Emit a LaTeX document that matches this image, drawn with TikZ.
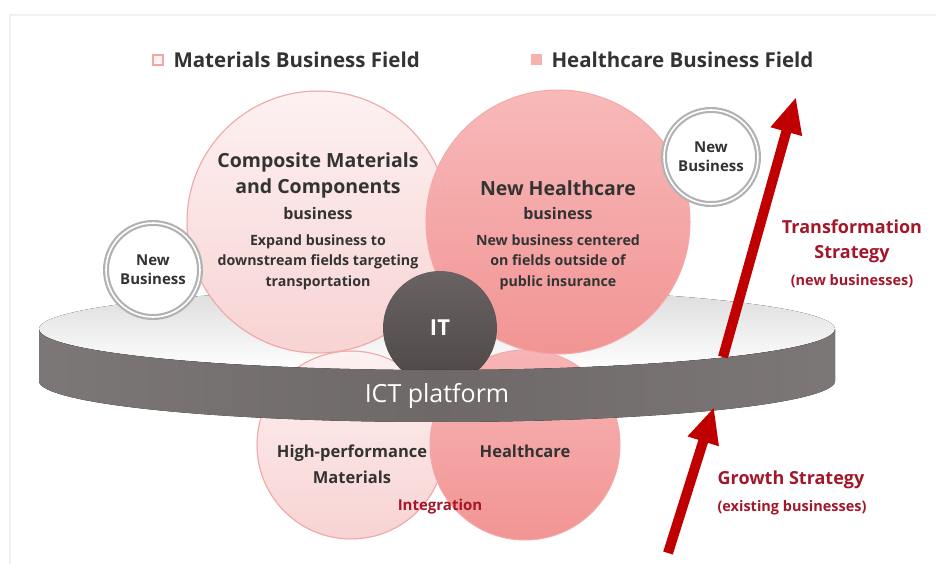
\documentclass[tikz,border=0pt]{standalone}
\usepackage{fontspec}
\setmainfont{Open Sans}
\usetikzlibrary{arrows.meta,positioning}
\definecolor{txtgray}{HTML}{333333}
\definecolor{stratred}{HTML}{A3172A}
\definecolor{arrowred}{HTML}{C00000}
\definecolor{palepink}{HTML}{FDF1F1}
\definecolor{softpink}{HTML}{F8D3D3}
\definecolor{edgepink}{HTML}{F0A8A8}
\definecolor{salmon}{HTML}{F6A8A8}
\definecolor{deepsalmon}{HTML}{F29494}
\definecolor{itgray}{HTML}{4E4747}
\definecolor{bandgray}{HTML}{6E6868}

\tikzset{
	fieldCircle/.style={circle, inner sep=0pt, line width=1pt, draw=edgepink},
	paleField/.style={fieldCircle, top color=palepink, bottom color=softpink},
	deepField/.style={fieldCircle, draw=salmon, top color=salmon!80!white, bottom color=deepsalmon},
	itCircle/.style={circle, inner sep=0pt, minimum size=114pt, top color=itgray!85, bottom color=itgray,
		text=white, font=\fontsize{22}{26}\selectfont\bfseries},
	newBiz/.style={circle, inner sep=0pt, minimum size=94pt, draw=black!30, line width=2.2pt,
		double=white, double distance=1.6pt, fill=white, align=center, text=txtgray,
		font=\fontsize{15}{19}\selectfont\bfseries},
	fieldTitle/.style={align=center, text=txtgray, font=\fontsize{19.5}{26}\selectfont\bfseries},
	fieldSub/.style={align=center, text=txtgray, font=\fontsize{16}{18}\selectfont\bfseries},
	fieldDesc/.style={align=center, text=txtgray, font=\fontsize{14.2}{20.5}\selectfont\bfseries},
	legendText/.style={anchor=west, text=txtgray, font=\fontsize{20.5}{24}\selectfont\bfseries},
	stratTitle/.style={align=center, text=stratred, font=\fontsize{18}{25}\selectfont\bfseries},
	stratSub/.style={align=center, text=stratred, font=\fontsize{14.5}{18}\selectfont\bfseries},
	stratArrow/.style={line width=10pt, arrowred, -{Triangle[length=36pt,width=30pt]}},
}

\begin{document}
\begin{tikzpicture}[x=1pt,y=-1pt]
	\useasboundingbox (0,0) rectangle (936,564);
	\draw[line width=2pt, black!6] (10,564) -- (10,15) -- (936,15);

	% legend
	\node[draw=edgepink, line width=1.5pt, fill=palepink, minimum size=10pt, inner sep=0pt] (legend-mat) at (158,60) {};
	\node[legendText] at (170,60) {Materials Business Field};
	\node[fill=salmon!90, minimum size=11pt, inner sep=0pt] (legend-hc) at (536,60) {};
	\node[legendText] at (548,60) {Healthcare Business Field};

	% top of the platform
	\fill[top color=black!14, bottom color=white] (437,329) ellipse [x radius=398pt, y radius=41pt];

	% existing businesses
	\node[paleField, minimum size=188pt] (base-hpm) at (351,445) {};
	\node[deepField, minimum size=190pt, top color=salmon!85!white] (base-hc) at (525,445) {};
	\draw[edgepink!70!salmon, line width=1pt, opacity=.45] (base-hpm.center) circle[radius=94pt];

	% new businesses
	\node[paleField, minimum size=262pt] (field-comp) at (318,222) {};
	\node[deepField, minimum size=264pt] (field-newhc) at (558,222) {};
	\draw[edgepink, line width=1pt, opacity=.45] (field-comp.center) circle[radius=131pt];

	\node[itCircle] (it) at (440,328) {IT};

	% side of the platform
	\fill[left color=bandgray!90, right color=bandgray!90, middle color=bandgray]
		plot[domain=180:360, samples=90] ({437+398*cos(\x)},{329-41*sin(\x)})
		-- plot[domain=360:180, samples=90] ({437+398*cos(\x)},{381-41*sin(\x)}) -- cycle;
	\node[text=white, font=\fontsize{25}{28}\selectfont] (ict) at (437,396) {ICT platform};

	% texts in the fields
	\node[fieldTitle] (comp-title) at (318,175) {Composite Materials\\and Components};
	\node[fieldSub] at (318,213) {business};
	\node[fieldDesc] at (318,262) {Expand business to\\downstream fields targeting\\transportation};
	\node[fieldTitle] (newhc-title) at (558,188) {New Healthcare};
	\node[fieldSub] at (558,213) {business};
	\node[fieldDesc] at (558,262) {New business centered\\on fields outside of\\public insurance};
	\node[fieldTitle, font=\fontsize{16.5}{26}\selectfont\bfseries] at (352,464) {High-performance\\Materials};
	\node[fieldTitle, font=\fontsize{16.5}{26}\selectfont\bfseries] at (525,451) {Healthcare};
	\node[stratSub, font=\fontsize{15}{18}\selectfont\bfseries] (integ) at (440,507) {Integration};

	\foreach \n/\x/\y in {left/153/270, right/711/157}
		\node[newBiz] (newbiz-\n) at (\x,\y) {New\\Business};

	% strategies
	\coordinate (trans-tail) at (723,357);
	\coordinate (trans-tip) at (796,97);
	\coordinate (growth-tail) at (668,553);
	\coordinate (growth-tip) at (714,407);
	\draw[stratArrow] (trans-tail) -- (trans-tip);
	\draw[stratArrow] (growth-tail) -- (growth-tip);
	\node[stratTitle] (trans-label) at (852,241) {Transformation\\Strategy};
	\node[stratSub] at (852,281) {(new businesses)};
	\node[stratTitle] (growth-label) at (791,480) {Growth Strategy};
	\node[stratSub] at (792,508) {(existing businesses)};
\end{tikzpicture}
\end{document}
